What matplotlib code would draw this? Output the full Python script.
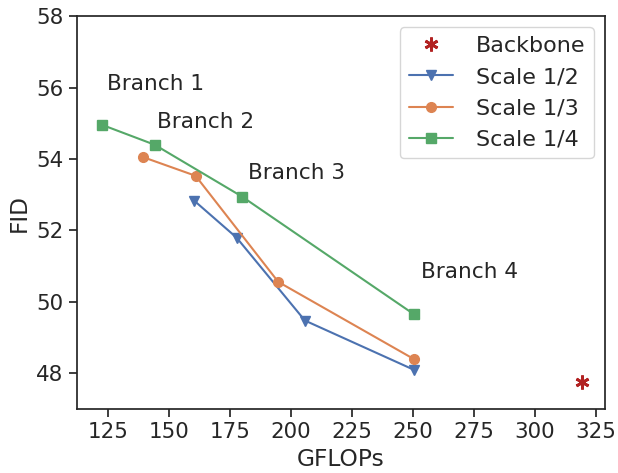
import matplotlib
matplotlib.use("Agg")
import matplotlib.pyplot as plt
import seaborn as sns

sns.set_theme(style="ticks", font_scale=1.4)
plt.rcParams['font.family'] = ['DejaVu Sans']

backbone_x = [319.1]
backbone_y = [47.76]

s2_x = [160.4, 177.7, 205.7, 250.4]
s2_y = [52.83, 51.80, 49.48, 48.10]

s3_x = [139.5, 160.9, 194.8, 250.4]
s3_y = [54.05, 53.53, 50.56, 48.40]

s4_x = [122.4, 144.1, 179.9, 250.5]
s4_y = [54.96, 54.40, 52.95, 49.65]

branch_labels = ["Branch 1", "Branch 2", "Branch 3", "Branch 4"]
branch_x = [124.7, 145.2, 182.2, 253.2]
branch_y = [55.94, 54.86, 53.44, 50.66]

fig = plt.figure(figsize=(6.18, 4.73), dpi=100)
ax = fig.add_axes([0.1246, 0.135, 0.979 - 0.1246, 0.966 - 0.135])

pal = sns.color_palette("deep")
ax.plot(backbone_x, backbone_y, linestyle='none', marker=(6, 2, 0), markersize=10,
        markeredgewidth=2.0, color='#B22222', label='Backbone')
ax.plot(s2_x, s2_y, marker='v', markersize=7, lw=1.5, color=pal[0], label='Scale 1/2')
ax.plot(s3_x, s3_y, marker='o', markersize=7, lw=1.5, color=pal[1], label='Scale 1/3')
ax.plot(s4_x, s4_y, marker='s', markersize=7, lw=1.5, color=pal[2], label='Scale 1/4')

for t, x, y in zip(branch_labels, branch_x, branch_y):
    ax.text(x, y, t, ha='left', va='baseline', fontsize=15.6, color='#262626')

ax.set_xlim(112.3, 328.7)
ax.set_ylim(47, 58)
ax.set_xticks([125, 150, 175, 200, 225, 250, 275, 300, 325])
ax.set_yticks([48, 50, 52, 54, 56, 58])
ax.set_xlabel('GFLOPs')
ax.set_ylabel('FID')
ax.legend(loc='upper right', fontsize=16, handletextpad=1.0, borderaxespad=0.5)

fig.savefig('out.png', dpi=100)
